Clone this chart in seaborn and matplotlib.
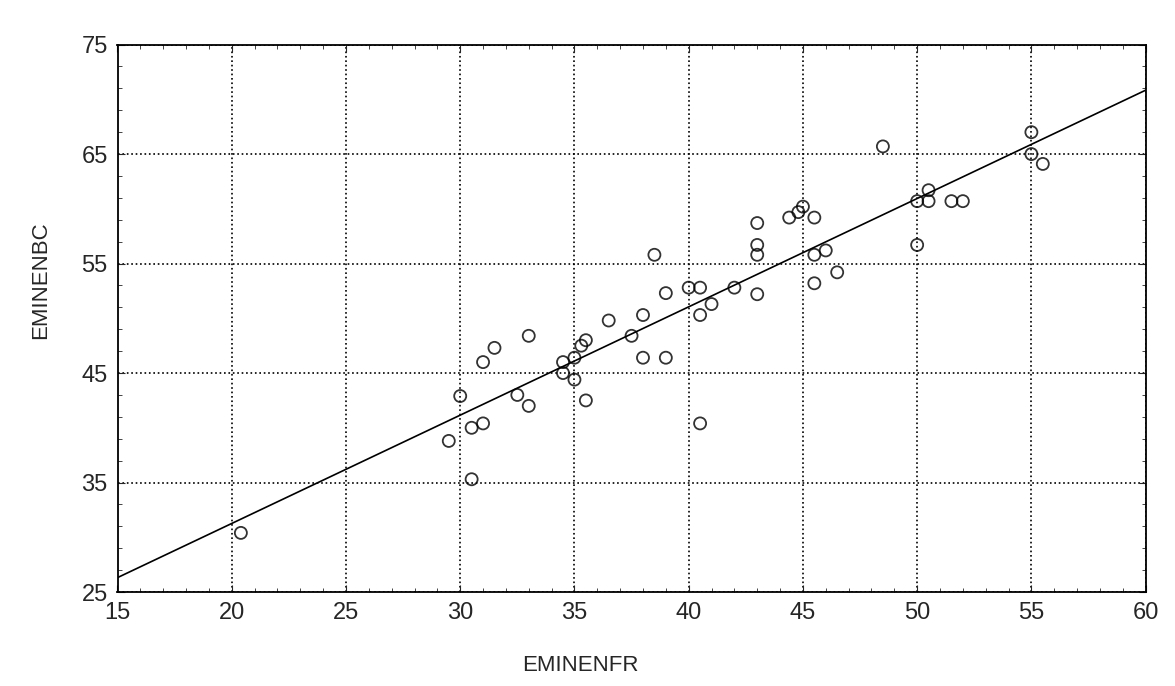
import numpy as np
import pandas as pd
import matplotlib
matplotlib.use("Agg")
import matplotlib.pyplot as plt
import seaborn as sns
from matplotlib.ticker import MultipleLocator

# values
eminenfr = [20.4, 29.5, 30.5, 30.0, 30.5, 31.0, 31.0, 31.5, 32.5, 33.0, 33.0,
            34.5, 34.5, 35.0, 35.0, 35.3, 35.5, 35.5, 36.5, 37.5, 38.0, 38.0,
            38.5, 39.0, 39.0, 40.0, 40.5, 40.5, 40.5, 41.0, 42.0, 43.0, 43.0,
            43.0, 43.0, 44.4, 44.8, 45.0, 45.5, 45.5, 46.0, 46.5, 45.5,
            48.5, 50.0, 50.5, 50.5, 51.5, 52.0, 50.0, 55.0, 55.0, 55.5]
eminenbc = [30.4, 38.8, 35.3, 42.9, 40.0, 40.4, 46.0, 47.3, 43.0, 42.0, 48.4,
            46.0, 45.0, 46.4, 44.4, 47.5, 48.0, 42.5, 49.8, 48.4, 50.3, 46.4,
            55.8, 52.3, 46.4, 52.8, 52.8, 50.3, 40.4, 51.3, 52.8, 58.7, 56.7,
            55.8, 52.2, 59.2, 59.7, 60.2, 59.2, 55.8, 56.2, 54.2, 53.2,
            65.7, 60.7, 61.7, 60.7, 60.7, 60.7, 56.7, 67.0, 65.0, 64.1]

x_ticks = [15, 20, 25, 30, 35, 40, 45, 50, 55, 60]
y_ticks = [25, 35, 45, 55, 65, 75]

df = pd.DataFrame({"EMINENFR": eminenfr, "EMINENBC": eminenbc})

sns.set_style("ticks")
plt.rcParams["font.family"] = ["Liberation Sans", "DejaVu Sans"]

fig, ax = plt.subplots(figsize=(11.75, 6.86), dpi=100)
fig.subplots_adjust(left=0.1, right=0.975, top=0.935, bottom=0.137)

ax.set_xlim(15, 60)
ax.set_ylim(25, 75)

sns.regplot(data=df, x="EMINENFR", y="EMINENBC", ax=ax, ci=None, truncate=False,
            scatter_kws={"s": 75, "facecolors": "none", "edgecolors": "black",
                         "linewidths": 1.3},
            line_kws={"color": "black", "linewidth": 1.2})

ax.set_xlim(15, 60)
ax.set_ylim(25, 75)
ax.set_xticks(x_ticks)
ax.set_yticks(y_ticks)
ax.xaxis.set_minor_locator(MultipleLocator(1))
ax.yaxis.set_minor_locator(MultipleLocator(2, offset=1))
ax.tick_params(which="both", direction="in", top=True, right=True, labelsize=17)
ax.tick_params(which="major", length=5, pad=7)
ax.tick_params(which="minor", length=3)
ax.grid(True, which="major", linestyle=":", color="black", linewidth=1.2)
for sp in ax.spines.values():
    sp.set_color("black")
    sp.set_linewidth(1.3)

ax.set_xlabel("EMINENFR", fontsize=16)
ax.set_ylabel("EMINENBC", fontsize=16)
ax.xaxis.set_label_coords(0.45, -0.115)
ax.yaxis.set_label_coords(-0.065, 0.57)

fig.savefig("out.png")
